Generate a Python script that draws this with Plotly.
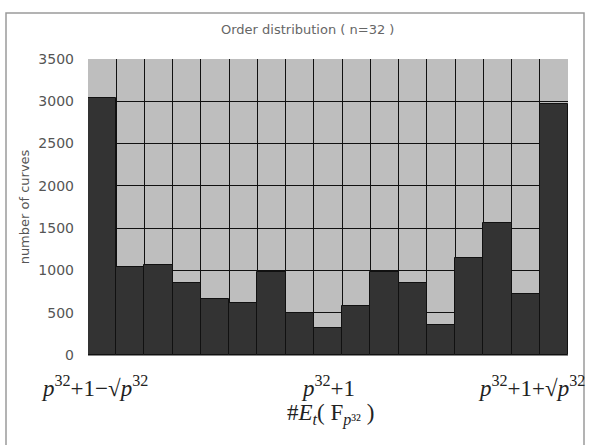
import plotly.graph_objects as go

# ---- data ----
bins = list(range(17))
counts = [3040, 1045, 1064, 850, 660, 620, 985, 495, 320, 575, 985, 850, 360, 1145, 1560, 720, 2970]
y_ticks = [0, 500, 1000, 1500, 2000, 2500, 3000, 3500]
title_text = "Order distribution ( n=32 )"
y_title = "number of curves"
x_title = "#<i>E</i><sub><i>t</i></sub>( F<sub><i>p</i>³²</sub> )"
x_labels = [
    (0, "<i>p</i><sup>32</sup>+1−√<i>p</i><sup>32</sup>"),
    (8, "<i>p</i><sup>32</sup>+1"),
    (16, "<i>p</i><sup>32</sup>+1+√<i>p</i><sup>32</sup>"),
]

W, H = 592, 445
L, R, T, B = 88, 24, 59, 90

fig = go.Figure()
fig.add_trace(go.Bar(
    x=bins, y=counts, width=1,
    marker=dict(color="#333333", line=dict(color="#111111", width=1)),
    showlegend=False, hoverinfo="x+y",
))

def px2paper_x(px):
    return (px - L) / (W - L - R)

def px2paper_y(py):
    return (H - B - py) / (H - T - B)

fig.update_layout(
    width=W, height=H,
    margin=dict(l=L, r=R, t=T, b=B),
    paper_bgcolor="white",
    plot_bgcolor="#BEBEBE",
    bargap=0,
    font=dict(family="DejaVu Sans", color="#555555"),
    xaxis=dict(
        range=[-0.5, 16.5], tick0=-0.5, dtick=1, showgrid=True,
        gridcolor="#111111", gridwidth=1, showticklabels=False,
        zeroline=False, showline=True, linecolor="#888888", ticks="",
    ),
    yaxis=dict(
        range=[0, 3500], tickvals=y_ticks, showgrid=True,
        gridcolor="#111111", gridwidth=1, zeroline=False,
        tickfont=dict(size=14, color="#555555"),
        ticklabelstandoff=13,
        title=dict(text=y_title, font=dict(size=13, color="#555555"), standoff=5),
    ),
    shapes=[dict(
        type="rect", xref="paper", yref="paper",
        x0=px2paper_x(6), x1=px2paper_x(584), y0=px2paper_y(460), y1=px2paper_y(13),
        line=dict(color="#9a9a9a", width=1.5), fillcolor="rgba(0,0,0,0)", layer="below",
    )],
)

annotations = [dict(
    text=title_text, xref="paper", yref="paper",
    x=px2paper_x(307), y=px2paper_y(29), xanchor="center", yanchor="middle",
    showarrow=False, font=dict(size=13, color="#666666"),
)]
shifts = {0: -8, 8: 0, 16: -22}
for xv, lab in x_labels:
    annotations.append(dict(
        text=lab, x=xv, xref="x", yref="paper", y=px2paper_y(386),
        xanchor="center", yanchor="middle", xshift=shifts[xv], showarrow=False,
        font=dict(family="Liberation Serif", size=23, color="#222222"),
    ))
annotations.append(dict(
    text=x_title, x=8, xref="x", yref="paper", y=px2paper_y(414),
    xanchor="center", yanchor="middle", xshift=2, showarrow=False,
    font=dict(family="Liberation Serif", size=23, color="#222222"),
))
fig.update_layout(annotations=annotations)

fig.write_html(
    "out.html",
    config={"displayModeBar": False},
    post_script="document.body.style.margin='0';document.body.style.overflow='hidden';",
)
